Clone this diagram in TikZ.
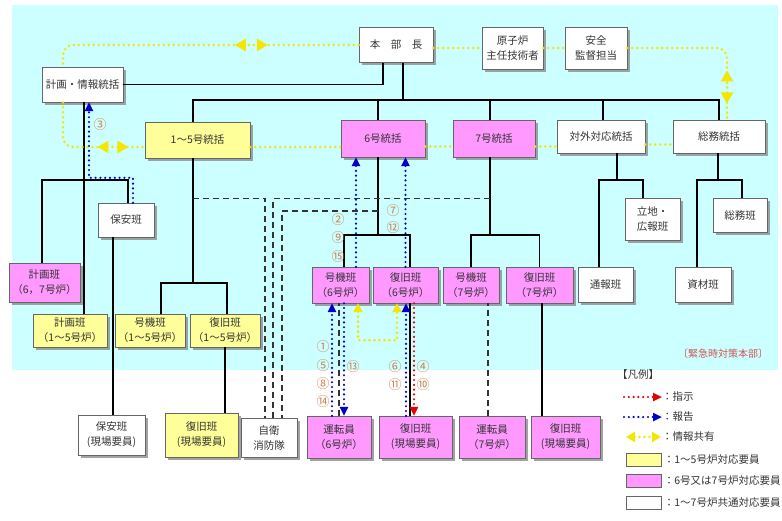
\documentclass[tikz,border=0pt]{standalone}
\usepackage{fontspec}
\setmainfont{Noto Sans CJK JP}
\usetikzlibrary{arrows.meta,shadows,decorations.markings}

\definecolor{bgcyan}{RGB}{204,255,255}
\definecolor{unitA}{RGB}{255,255,153}
\definecolor{unitB}{RGB}{255,153,255}
\definecolor{infoyel}{RGB}{245,230,0}
\definecolor{numtan}{RGB}{205,130,80}
\definecolor{rptblue}{RGB}{0,0,205}
\definecolor{cmdred}{RGB}{230,0,0}
\definecolor{hqred}{RGB}{205,85,85}

\tikzset{
  sz/.style 2 args={minimum width=#1pt, minimum height=#2pt},
  ytip/.tip={Triangle[length=11pt,width=12pt]},
  pair/.style 2 args={postaction={decorate}, decoration={markings,
      mark=at position #1 with {\arrowreversed{ytip}},
      mark=at position #2 with {\arrow{ytip}}}}
}

\begin{document}
\begin{tikzpicture}[x=1pt, y=-1pt, >={Triangle[length=9pt,width=8pt]}]
  \tikzstyle{box}=[draw=black!60, text=black!80, align=center, inner sep=0pt,
    font=\fontsize{10.5}{15}\selectfont,
    drop shadow={shadow xshift=2.5pt, shadow yshift=-2.5pt, fill=black!45, opacity=.8}]
  \tikzstyle{yel}=[box, fill=unitA]
  \tikzstyle{pnk}=[box, fill=unitB]
  \tikzstyle{wht}=[box, fill=white]
  \tikzstyle{org}=[line width=1.6pt]
  \tikzstyle{grp}=[line width=1.3pt, black!80, dash pattern=on 6pt off 4pt]
  \tikzstyle{rep}=[draw=rptblue, line width=2.4pt, dash pattern=on 0pt off 4.8pt, line cap=round, ->]
  \tikzstyle{cmd}=[draw=cmdred, line width=2.4pt, dash pattern=on 0pt off 4.8pt, line cap=round, ->]
  \tikzstyle{info}=[draw=infoyel, line width=2.8pt, dash pattern=on 0pt off 5pt, line cap=round]
  \tikzstyle{num}=[text=numtan, inner sep=0pt, font=\fontsize{13}{13}\selectfont]
  \tikzstyle{lg}=[anchor=west, inner sep=0pt, text=black!80, font=\fontsize{10.5}{12}\selectfont]
  \tikzstyle{legsq}=[draw=black!60, minimum width=35pt, minimum height=13pt, inner sep=0pt]

  \useasboundingbox (0,0) rectangle (782,520);
  \fill[bgcyan] (12,5) rectangle (778,370);

  % headquarters
  \node[wht, sz={74}{35}] (hq) at (396,45) {本　部　長};
  \node[wht, sz={61}{42}] (gen) at (512.5,48) {原子炉\\主任技術者};
  \node[wht, sz={62}{42}] (anz) at (596,48) {安全\\監督担当};
  \node[wht, sz={81}{35}] (kj) at (82.5,84.5) {計画・情報統括};

  % unit heads
  \node[yel, sz={105}{36}] (u15) at (197.5,140) {1～5号統括};
  \node[pnk, sz={84}{37}] (u6) at (383,138.5) {6号統括};
  \node[pnk, sz={82}{37}] (u7) at (494,138.5) {7号統括};
  \node[wht, sz={88}{33}] (tg) at (601,136.5) {対外対応統括};
  \node[wht, sz={92}{33}] (sm) at (719,136.5) {総務統括};

  % teams
  \node[wht, sz={56}{34}] (hoan) at (126,220) {保安班};
  \node[pnk, sz={71}{39}] (kp67) at (44.5,282.5) {計画班\\（6，7号炉）};
  \node[yel, sz={74}{33}] (kp15) at (70,330.5) {計画班\\（1～5号炉）};
  \node[yel, sz={70}{33}] (gk15) at (150,330.5) {号機班\\（1～5号炉）};
  \node[yel, sz={70}{33}] (fk15) at (225,330.5) {復旧班\\（1～5号炉）};
  \node[pnk, sz={57}{36}] (gk6) at (340.5,285) {号機班\\（6号炉）};
  \node[pnk, sz={65}{36}] (fk6) at (405.5,285) {復旧班\\（6号炉）};
  \node[pnk, sz={56}{36}] (gk7) at (471,285) {号機班\\（7号炉）};
  \node[pnk, sz={67}{36}] (fk7) at (539.5,285) {復旧班\\（7号炉）};
  \node[wht, sz={55}{42}] (rit) at (652.5,219) {立地・\\広報班};
  \node[wht, sz={54}{34}] (smh) at (740,215) {総務班};
  \node[wht, sz={55}{35}] (tsu) at (605.5,284.5) {通報班};
  \node[wht, sz={56}{35}] (szi) at (703,284.5) {資材班};

  % field staff
  \node[wht, sz={67}{40}] (hoanG) at (111.5,435) {保安班\\(現場要員)};
  \node[yel, sz={73}{44}] (fkG15) at (201.5,435) {復旧班\\(現場要員)};
  \node[wht, sz={56}{39}] (jie) at (269,437.5) {自衛\\消防隊};
  \node[pnk, sz={64}{42}] (unt6) at (339,437) {運転員\\（6号炉）};
  \node[pnk, sz={73}{42}] (fkG6) at (415.5,437) {復旧班\\(現場要員)};
  \node[pnk, sz={66}{42}] (unt7) at (492,437) {運転員\\（7号炉）};
  \node[pnk, sz={69}{42}] (fkG7) at (565.5,437) {復旧班\\(現場要員)};

  \node[text=hqred, inner sep=0pt, font=\fontsize{10}{12}\selectfont] (ecc) at (723,354) {〔緊急時対策本部〕};

  % organisation lines
  \draw[org] ([xshift=7pt]hq.south) -- ++(0,37.5) coordinate (j0);
  \draw[org] ([xshift=-4.5pt]u15.north) |- (sm.north |- j0) -- (sm.north);
  \draw[org] ([xshift=-5pt]u6.north) -- ([xshift=-5pt]u6.north |- j0);
  \draw[org] ([xshift=-4pt]u7.north) -- ([xshift=-4pt]u7.north |- j0);
  \draw[org] ([xshift=2pt]tg.north) -- ([xshift=2pt]tg.north |- j0);
  \draw[org] ([xshift=-13pt]hq.south) |- (kj.east);

  \draw[org] ([xshift=1.5pt]kj.south) -- ([xshift=1.5pt]kj.south |- kp15.north);
  \draw[org] ([xshift=-2.5pt]kp67.north) -- ++(0,-83) -| ([xshift=2pt]hoan.north);
  \draw[org] ([xshift=-13pt]hoan.south) -- ([xshift=-13pt]hoan.south |- hoanG.north);

  \draw[org] ([xshift=-4.5pt]u15.south) -- coordinate[pos=.32] (d15) ++(0,125);
  \draw[org] ([xshift=11pt]gk15.north) -- ++(0,-31) -| ([xshift=2pt]fk15.north);
  \draw[org] (fk15.south) -- (fk15.south |- fkG15.north);

  \draw[org] ([xshift=-5pt]u6.south) -- coordinate[pos=.69] (d6) ++(0,78);
  \draw[org] ([xshift=3.5pt]gk6.north) -- ++(0,-32) -| ([xshift=4.5pt]fk6.north);
  \draw[org] ([xshift=-5.5pt]fkG6.north) -- ([xshift=-5.5pt]fkG6.north |- fk6.south);
  \draw[grp] (unt6.north) -- (unt6.north |- gk6.south);

  \draw[org] ([xshift=-4pt]u7.south) -- coordinate[pos=.53] (d7) ++(0,78);
  \draw[org] (gk7.north) -- ++(0,-32) -| (fk7.north);
  \draw[grp] ([xshift=-4pt]unt7.north) -- ([xshift=-4pt]unt7.north |- gk7.south);
  \draw[org] ([xshift=2.5pt]fk7.south) -- ([xshift=2.5pt]fk7.south |- fkG7.north);

  \draw[org] ([xshift=16pt]tg.south) -- ++(0,27);
  \draw[org] ([xshift=-6.5pt]tsu.north) -- ++(0,-87) -| ([xshift=-9.5pt]rit.north);
  \draw[org] ([xshift=-1pt]sm.south) -- ++(0,27);
  \draw[org] ([xshift=-6pt]szi.north) -- ++(0,-87) -| ([xshift=2pt]smh.north);

  % fire brigade
  \draw[grp] (d15) -| ([xshift=-4pt]jie.north);
  \draw[grp] (d7) -| ([xshift=4pt]jie.north);
  \draw[grp] (d6) -| ([xshift=13pt]jie.north);

  % information sharing
  \draw[info, rounded corners=10pt, pair={91pt}{124pt}] (hq.west) -| ([xshift=-19.5pt]kj.north);
  \draw[info] (hq.east |- gen.west) -- (gen.west);
  \draw[info] (gen.east) -- (anz.west);
  \draw[info, rounded corners=10pt, pair={118pt}{151pt}] (anz.east) -| ([xshift=8pt]sm.north);
  \draw[info, rounded corners=10pt, pair={75pt}{106pt}] ([xshift=-19.5pt]kj.south) |- ([yshift=-7pt]u15.west);
  \draw[info] ([yshift=-7pt]u15.east) -- ([yshift=-7pt]u15.east -| u6.west);
  \draw[info] ([yshift=-8pt]u6.east) -- ([yshift=-8pt]u6.east -| u7.west);
  \draw[info] ([yshift=-8pt]u7.east) -- ([yshift=-8pt]u7.east -| tg.west);
  \draw[info] ([yshift=-8pt]tg.east) -- ([yshift=-8pt]tg.east -| sm.west);
  \draw[info, {Triangle[length=9pt,width=9pt]}-{Triangle[length=9pt,width=9pt]}]
    ([xshift=17.5pt]gk6.south) -- ++(0,37) -| ([xshift=-8.5pt]fk6.south);

  % reports and instructions
  \draw[rep] ([xshift=7pt]hoan.north) -- ++(0,-25) -| ([xshift=6.5pt]kj.south);
  \draw[rep] ([xshift=15.5pt]gk6.north) -- ([xshift=15.5pt]gk6.north |- u6.south);
  \draw[rep] (fk6.north) -- (fk6.north |- u6.south);
  \draw[rep] ([xshift=-7pt]unt6.north) -- ([xshift=-7pt]unt6.north |- gk6.south);
  \draw[rep] ([xshift=5pt]unt6.north |- gk6.south) -- ([xshift=5pt]unt6.north);
  \draw[rep] ([xshift=-9.5pt]fkG6.north) -- ([xshift=-9.5pt]fkG6.north |- fk6.south);
  \draw[cmd] ([xshift=-1.5pt]fkG6.north |- fk6.south) -- ([xshift=-1.5pt]fkG6.north);

  % step numbers
  \foreach \t/\x/\y [count=\i] in {③/100/125, ②/338/220, ⑨/338/238, ⑮/338/257,
      ⑦/393/211, ⑫/393/228, ①/323/347, ⑤/323/366, ⑧/323/384, ⑭/323/402,
      ⑬/353/367, ⑥/395/367, ⑪/395/385, ④/423/367, ⑩/423/385}
    \node[num] (c\i) at (\x,\y) {\t};

  % legend
  \node[lg] (l0) at (617,375) {【凡例】};
  \node[lg] (l1) at (662,397) {：指示};
  \node[lg] (l2) at (662,417) {：報告};
  \node[lg] (l3) at (662,437) {：情報共有};
  \draw[cmd] ([xshift=-38pt]l1.west) -- (l1.west);
  \draw[rep] ([xshift=-38pt]l2.west) -- (l2.west);
  \draw[info, {Triangle[length=9pt,width=10pt]}-{Triangle[length=9pt,width=10pt]}]
    ([xshift=-36pt]l3.west) -- ([xshift=-1pt]l3.west);
  \node[legsq, fill=unitA] (s1) at (644,460) {};
  \node[legsq, fill=unitB] (s2) at (644,481) {};
  \node[legsq, fill=white] (s3) at (644,503) {};
  \node[lg] (t1) at ([xshift=2pt]s1.east) {：1～5号炉対応要員};
  \node[lg] (t2) at ([xshift=2pt]s2.east) {：6号又は7号炉対応要員};
  \node[lg] (t3) at ([xshift=2pt]s3.east) {：1～7号炉共通対応要員};
\end{tikzpicture}
\end{document}
